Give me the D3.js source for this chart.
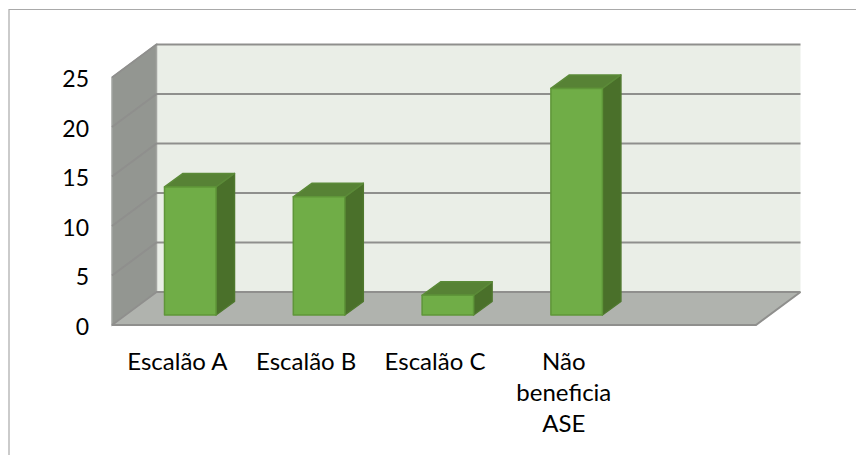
<!DOCTYPE html>
<html>

<head>
    <meta charset="utf-8" />
    <title>Escalão ASE</title>
    <script src="https://d3js.org/d3.v7.min.js"></script>
    <style>
        html, body {
            margin: 0;
            background: #fff;
        }

        text {
            font-family: Lato, "Open Sans", sans-serif;
            fill: #000;
        }
    </style>
</head>

<body>
    <div id="my_dataviz"></div>
    <script>
        // the last band is empty in the original chart
        const categories = ["Escalão A", "Escalão B", "Escalão C", "Não\nbeneficia\nASE", ""];
        const values = [13, 12, 2, 23];
        const yTicks = [0, 5, 10, 15, 20, 25];

        const width = 856, height = 455;

        // front plane of the 3d box
        const left = 112, right = 756, floorY = 325, plotH = 247.5;
        // depth of the box and of the bars
        const depthX = 44.5, depthY = -33;
        const barDepthX = 18.5, barDepthY = -13.5;
        const barOffset = 52.5, barWidth = 51.5, barBase = 315;
        // bars sit a bit further back than the front plane so they look slightly shorter
        const barScale = 0.995;

        const svg = d3.select("#my_dataviz")
            .append("svg")
            .attr("width", width)
            .attr("height", height)
            .style("display", "block");

        // outer frame, only top and left are visible
        svg.append("path")
            .attr("d", `M9,${height}V9.5H${width}`)
            .attr("fill", "none")
            .attr("stroke", "#a9a9a9")
            .attr("stroke-width", 1.2);

        const x = d3.scaleBand()
            .domain(categories)
            .range([left, right]);

        const y = d3.scaleLinear()
            .domain([0, 25])
            .range([floorY, floorY - plotH]);

        const poly = pts => "M" + pts.map(p => p.join(",")).join("L") + "Z";

        // back wall
        svg.append("path")
            .attr("d", poly([[left + depthX, y(25) + depthY], [right + depthX, y(25) + depthY], [right + depthX, y(0) + depthY], [left + depthX, y(0) + depthY]]))
            .attr("fill", "#eaeee7");

        // side wall
        svg.append("path")
            .attr("d", poly([[left, y(25)], [left + depthX, y(25) + depthY], [left + depthX, y(0) + depthY], [left, y(0)]]))
            .attr("fill", "#939691")
            .attr("stroke", "#a3a5a1")
            .attr("stroke-width", 1.5);

        // floor
        svg.append("path")
            .attr("d", poly([[left, y(0)], [right, y(0)], [right + depthX, y(0) + depthY], [left + depthX, y(0) + depthY]]))
            .attr("fill", "#b0b3ae");

        // grid lines go along the side wall and then the back wall
        svg.append("g")
            .selectAll("path")
            .data(yTicks)
            .join("path")
            .attr("d", d => `M${left},${y(d)}L${left + depthX},${y(d) + depthY}H${right + depthX}`)
            .attr("fill", "none")
            .attr("stroke", "#8f8f8d")
            .attr("stroke-width", 2);

        // floor front and right edges
        svg.append("path")
            .attr("d", `M${left},${y(0)}H${right}L${right + depthX},${y(0) + depthY}`)
            .attr("fill", "none")
            .attr("stroke", "#8f8f8d")
            .attr("stroke-width", 2);

        // bars
        const bars = svg.append("g")
            .selectAll("g")
            .data(values)
            .join("g")
            .attr("stroke-width", 1.5)
            .attr("stroke-linejoin", "round");

        const barLeft = (d, i) => x(categories[i]) + barOffset;
        const barTop = d => barBase - (y(0) - y(d)) * barScale;

        // side
        bars.append("path")
            .attr("d", (d, i) => {
                const x1 = barLeft(d, i) + barWidth;
                return poly([[x1, barTop(d)], [x1 + barDepthX, barTop(d) + barDepthY], [x1 + barDepthX, barBase + barDepthY], [x1, barBase]]);
            })
            .attr("fill", "#4a702a")
            .attr("stroke", "#4f782e");

        // top
        bars.append("path")
            .attr("d", (d, i) => {
                const x0 = barLeft(d, i);
                return poly([[x0, barTop(d)], [x0 + barDepthX, barTop(d) + barDepthY], [x0 + barWidth + barDepthX, barTop(d) + barDepthY], [x0 + barWidth, barTop(d)]]);
            })
            .attr("fill", "#578235")
            .attr("stroke", "#5b8a38");

        // front
        bars.append("rect")
            .attr("x", barLeft)
            .attr("y", barTop)
            .attr("width", barWidth)
            .attr("height", d => barBase - barTop(d))
            .attr("fill", "#70ad47")
            .attr("stroke", "#5f9639");

        // Y axis labels
        const yAxis = svg.append("g")
            .attr("transform", "translate(89,1)")
            .call(d3.axisLeft(y).tickValues(yTicks).tickSize(0).tickPadding(0));
        yAxis.select(".domain").remove();
        yAxis.selectAll("text")
            .attr("font-size", 23)
            .style("font-family", "Lato")
            .attr("dy", "0.36em")
            .attr("x", 0);

        // X axis labels, broken in lines
        const xAxis = svg.append("g")
            .attr("transform", `translate(0,${y(0)})`)
            .call(d3.axisBottom(x).tickSize(0).tickFormat(""));
        xAxis.select(".domain").remove();
        xAxis.selectAll(".tick text")
            .attr("font-size", 24)
            .style("font-family", "Lato")
            .attr("y", 0)
            .attr("dy", 0)
            .each(function (d) {
                d3.select(this).selectAll("tspan")
                    .data(d.split("\n"))
                    .join("tspan")
                    .attr("x", 1)
                    .attr("y", (l, i) => 45 + i * 31)
                    .text(l => l);
            });
    </script>
</body>

</html>
